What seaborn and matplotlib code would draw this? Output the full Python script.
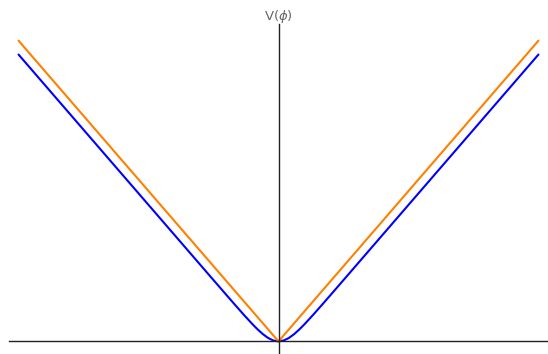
import matplotlib
matplotlib.use("Agg")
import matplotlib.pyplot as plt
import seaborn as sns

# potential curves V(phi)
phi_abs = [-15, 0, 15]
v_abs = [15, 0, 15]

phi_smooth = [-15, -10, -6, -4, -3, -2.5, -2, -1.5, -1.2, -0.9, -0.6, -0.3,
              0, 0.3, 0.6, 0.9, 1.2, 1.5, 2, 2.5, 3, 4, 6, 10, 15]
v_smooth = [14.307, 9.307, 5.307, 3.307, 2.309, 1.814, 1.325, 0.855, 0.594,
            0.360, 0.170, 0.044, 0.0, 0.044, 0.170, 0.360, 0.594, 0.855,
            1.325, 1.814, 2.309, 3.307, 5.307, 9.307, 14.307]

y_label = "V($\\phi$)"

sns.set_style("white")

fig = plt.figure(figsize=(5.48, 3.54), dpi=100)
ax = fig.add_axes([9 / 548, 1 / 354, 539 / 548, 329 / 354])

sns.lineplot(x=phi_smooth, y=v_smooth, ax=ax, color="#0000ff", linewidth=1.5)
sns.lineplot(x=phi_abs, y=v_abs, ax=ax, color="#ff8000", linewidth=1.5)

ax.set_xlim(-15.55, 15.55)
ax.set_ylim(-0.58, 15.83)

# axes through the origin
ax.spines["left"].set_position(("data", 0))
ax.spines["bottom"].set_position(("data", 0))
ax.spines["top"].set_visible(False)
ax.spines["right"].set_visible(False)
for s in ("left", "bottom"):
    ax.spines[s].set_color("#222222")
    ax.spines[s].set_linewidth(1.0)
ax.set_xticks([])
ax.set_yticks([])

ax.text(0, 0.997, y_label, transform=ax.get_xaxis_transform(),
        ha="center", va="bottom", fontsize=9.5, color="#666666")

fig.savefig("out.png", dpi=100)
